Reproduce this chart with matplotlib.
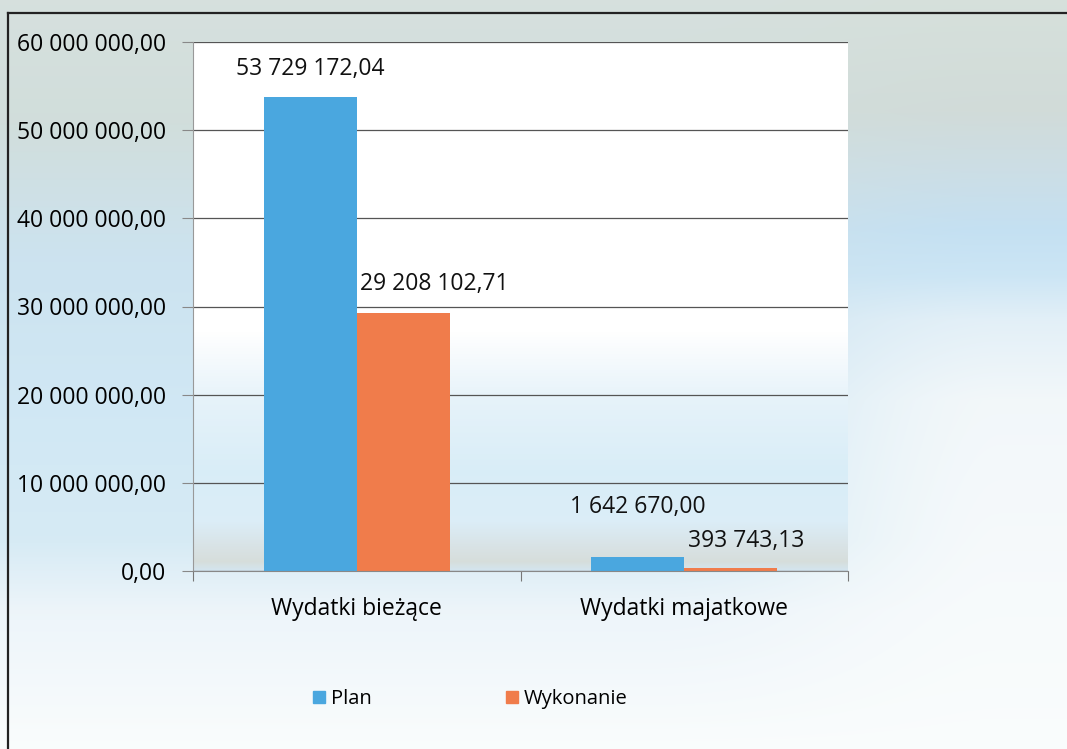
import numpy as np
import matplotlib
matplotlib.use('Agg')
import matplotlib.pyplot as plt
from matplotlib.lines import Line2D

plt.rcParams['font.family'] = ['Open Sans', 'DejaVu Sans']

# dane
categories = ['Wydatki bieżące', 'Wydatki majatkowe']
plan = [53729172.04, 1642670.00]
wykonanie = [29208102.71, 393743.13]
series_names = ['Plan', 'Wykonanie']
y_ticks = [0, 10e6, 20e6, 30e6, 40e6, 50e6, 60e6]

# przesunięcia etykiet (px): (dx, dy) nad słupkiem
plan_label_off = [(0, 28), (0, 50)]
wyk_label_off = [(31, 29), (15, 27)]

BLUE = '#4aa7df'
ORANGE = '#f07c4b'

W, H = 1067, 749
DPI = 100


def fmt_pl(v):
    # format polski: spacje jako separator tysięcy, przecinek dziesiętny
    return f'{v:,.2f}'.replace(',', ' ').replace('.', ',')


def profile(stops, n):
    ys = np.array([s[0] for s in stops], dtype=float)
    cols = np.array([s[1] for s in stops], dtype=float)
    yy = np.arange(n)
    return np.stack([np.interp(yy, ys, cols[:, k]) for k in range(3)], axis=1)


fig = plt.figure(figsize=(W / DPI, H / DPI), dpi=DPI)

# tło całej figury (skan z gradientem)
left_stops = [(0, (0.84, 0.88, 0.87)), (120, (0.82, 0.87, 0.86)),
              (260, (0.80, 0.89, 0.94)), (420, (0.82, 0.91, 0.96)),
              (540, (0.84, 0.92, 0.96)), (610, (0.93, 0.96, 0.98)),
              (749, (0.98, 0.99, 0.99))]
right_stops = [(0, (0.84, 0.88, 0.86)), (110, (0.82, 0.86, 0.85)),
               (170, (0.80, 0.87, 0.90)), (230, (0.77, 0.88, 0.95)),
               (275, (0.80, 0.90, 0.96)), (320, (0.89, 0.94, 0.97)),
               (400, (0.95, 0.97, 0.98)), (749, (0.98, 0.99, 0.99))]
pl = profile(left_stops, H)
pr = profile(right_stops, H)
xx = np.arange(W)
w = np.clip((xx - 650) / 350.0, 0, 1)
w = w * w * (3 - 2 * w)
bg = pl[:, None, :] * (1 - w[None, :, None]) + pr[:, None, :] * w[None, :, None]
bg_ax = fig.add_axes([0, 0, 1, 1], zorder=-10)
bg_ax.imshow(bg, aspect='auto', extent=(0, 1, 0, 1), origin='upper')
bg_ax.set_axis_off()

# ramka
fig.add_artist(Line2D([8 / W, 1.0], [1 - 13 / H, 1 - 13 / H], color='#222222', lw=1.6))
fig.add_artist(Line2D([8 / W, 8 / W], [0, 1 - 13 / H], color='#222222', lw=1.6))

# obszar wykresu
ax = fig.add_axes([193 / W, 1 - 571 / H, (848 - 193) / W, (571 - 42) / H])
ax.set_facecolor('none')

pa_stops = [(0, (1, 1, 1)), (290, (1, 1, 1)), (360, (0.90, 0.95, 0.98)),
            (430, (0.85, 0.93, 0.97)), (480, (0.86, 0.93, 0.97)),
            (505, (0.85, 0.89, 0.90)), (520, (0.84, 0.87, 0.86)),
            (529, (0.83, 0.90, 0.94))]
pa = profile(pa_stops, 530)[:, None, :]
ax.imshow(pa, aspect='auto', extent=(0, 1, 0, 1), origin='upper',
          transform=ax.transAxes, zorder=0)

x = np.arange(len(categories))
bw = 0.284
b1 = ax.bar(x - bw / 2, plan, bw, color=BLUE, zorder=3, label=series_names[0])
b2 = ax.bar(x + bw / 2, wykonanie, bw, color=ORANGE, zorder=3, label=series_names[1])

for rect, v, off in zip(b1, plan, plan_label_off):
    ax.annotate(fmt_pl(v), (rect.get_x() + rect.get_width() / 2, v),
                xytext=off, textcoords='offset pixels', ha='center', va='center',
                fontsize=16.5, color='#111111', zorder=5)
for rect, v, off in zip(b2, wykonanie, wyk_label_off):
    ax.annotate(fmt_pl(v), (rect.get_x() + rect.get_width() / 2, v),
                xytext=off, textcoords='offset pixels', ha='center', va='center',
                fontsize=16.5, color='#111111', zorder=5)

ax.set_xlim(-0.5, 1.5)
ax.set_ylim(0, 60e6)
ax.set_yticks(y_ticks)
ax.set_yticklabels([fmt_pl(t) for t in y_ticks])
ax.yaxis.grid(True, color='#555555', lw=0.9, zorder=1)
ax.set_axisbelow(True)

ax.set_xticks([-0.5, 0.5, 1.5])
ax.set_xticklabels([])
ax.set_xticks(x, minor=True)
ax.set_xticklabels(categories, minor=True)
ax.tick_params(axis='x', which='minor', length=0, pad=19, labelsize=16.5)
ax.tick_params(axis='x', which='major', length=7, color='#777777', direction='out')
ax.tick_params(axis='y', length=8, color='#888888', pad=11.5, labelsize=16.5)

for s in ['top', 'right']:
    ax.spines[s].set_visible(False)
ax.spines['left'].set_color('#999999')
ax.spines['bottom'].set_color('#888888')
ax.spines['bottom'].set_zorder(4)

handles = [Line2D([], [], marker='s', ls='', color=BLUE, markersize=8.5),
           Line2D([], [], marker='s', ls='', color=ORANGE, markersize=8.5)]
fig.legend(handles, series_names, loc='center', bbox_to_anchor=(470 / W, 1 - 699 / H),
           ncol=2, frameon=False, fontsize=14.5, handlelength=0.7, handletextpad=0.25,
           columnspacing=6.6)

fig.savefig('out.png', dpi=DPI)
